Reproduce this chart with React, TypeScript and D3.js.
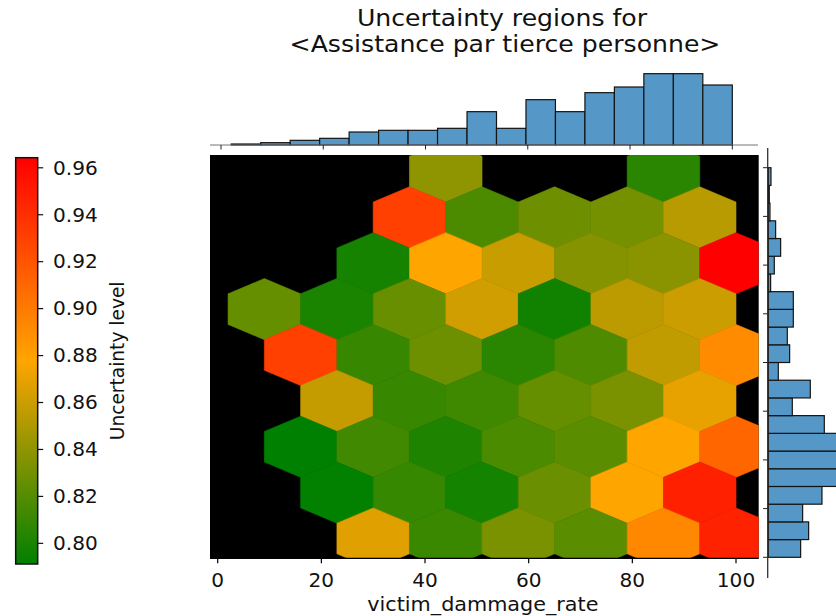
import React from "react";
import * as d3 from "d3";

const W = 836;
const H = 616;
const FONT = "DejaVu Sans";
// glyphs in this figure are slightly wider than tall
const TEXT_STRETCH = 1.08;

// Hexbin grid: 7 columns across the x range, 4 rows across the y range
const X_MIN = 2;
const X_MAX = 100;
const Y_MIN = 0;
const Y_MAX = 80;
const GRID_NX = 7;
const GRID_NY = 4;

// Occupied hexagon centres and their mean uncertainty
const cellX = [
  44, 86,
  37, 51, 65, 79, 93,
  30, 44, 58, 72, 86, 100,
  9, 23, 37, 51, 65, 79, 93,
  16, 30, 44, 58, 72, 86, 100,
  23, 37, 51, 65, 79, 93,
  16, 30, 44, 58, 72, 86, 100,
  23, 37, 51, 65, 79, 93,
  30, 44, 58, 72, 86, 100,
];
const cellY = [
  80, 80,
  70, 70, 70, 70, 70,
  60, 60, 60, 60, 60, 60,
  50, 50, 50, 50, 50, 50, 50,
  40, 40, 40, 40, 40, 40, 40,
  30, 30, 30, 30, 30, 30,
  20, 20, 20, 20, 20, 20, 20,
  10, 10, 10, 10, 10, 10,
  0, 0, 0, 0, 0, 0,
];
const uncertainty = [
  0.8394, 0.8055,
  0.9308, 0.817, 0.8286, 0.8313, 0.8537,
  0.7987, 0.8778, 0.859, 0.8367, 0.838, 0.9643,
  0.8258, 0.8, 0.826, 0.8618, 0.7966, 0.8547, 0.8601,
  0.9308, 0.8099, 0.8279, 0.8055, 0.8177, 0.8563, 0.8909,
  0.8577, 0.8099, 0.8126, 0.8258, 0.8326, 0.8699,
  0.7912, 0.8133, 0.8014, 0.8163, 0.8218, 0.8778, 0.9108,
  0.792, 0.8096, 0.7977, 0.8272, 0.8778, 0.9475,
  0.8672, 0.8109, 0.8326, 0.8218, 0.893, 0.9465,
];

// Marginal histograms (top: along x, left to right; right: along y, bottom to top)
const topCounts = [3, 7, 14, 20, 39, 44, 44, 50, 100, 50, 136, 100, 157, 174, 214, 214, 180];
const rightCounts = [97, 121, 103, 161, 218, 232, 225, 168, 72, 126, 30, 64, 57, 75, 75, 7, 18, 37, 22, 5, 3, 8];

// Ticks
const xTicks = [0, 20, 40, 60, 80, 100];
const yTicks = [0, 10, 20, 30, 40, 50, 60, 70, 80];
const cbarTicks = [0.8, 0.82, 0.84, 0.86, 0.88, 0.9, 0.92, 0.94, 0.96];

const V_MIN = 0.7912;
const V_MAX = 0.9643;

const TITLE_LINES = ["Uncertainty regions for", "<Assistance par tierce personne>"];
const X_LABEL = "victim_dammage_rate";
const CBAR_LABEL = "Uncertainty level";

function Label(props: {
  x: number;
  y: number;
  size: number;
  anchor?: "start" | "middle" | "end";
  children: React.ReactNode;
}) {
  return (
    <text
      transform={`translate(${props.x},${props.y}) scale(${TEXT_STRETCH},1)`}
      textAnchor={props.anchor ?? "middle"}
      fontSize={props.size}
      fill="#111"
    >
      {props.children}
    </text>
  );
}

export default function App() {
  // main panel
  const plot = { left: 210, right: 758.7, top: 155, bottom: 558.3 };
  const x = d3.scaleLinear().domain([0, 100]).range([217.7, 736]);
  const y = d3.scaleLinear().domain([Y_MIN, Y_MAX]).range([538.5, 171.5]);

  const color = d3
    .scaleLinear<string>()
    .domain([V_MIN, (V_MIN + V_MAX) / 2, V_MAX])
    .range(["#008000", "#ffa500", "#ff0000"])
    .interpolate(d3.interpolateRgb)
    .clamp(true);

  const sx = (X_MAX - X_MIN) / GRID_NX;
  const sy = (Y_MAX - Y_MIN) / GRID_NY;
  const hexOffsets: [number, number][] = [
    [0.5, -0.5 / 3],
    [0.5, 0.5 / 3],
    [0, 1 / 3],
    [-0.5, 0.5 / 3],
    [-0.5, -0.5 / 3],
    [0, -1 / 3],
  ];
  const hexPath = (cx: number, cy: number) =>
    "M" +
    hexOffsets
      .map(([dx, dy]) => `${x(cx + dx * sx).toFixed(2)},${y(cy + dy * sy).toFixed(2)}`)
      .join("L") +
    "Z";

  // top marginal
  const topX = d3.scaleLinear().domain([0, 100]).range([221, 732.3]);
  const topY = d3.scaleLinear().domain([0, 225]).range([145, 70]);
  const topBinW = (X_MAX - X_MIN) / topCounts.length;

  // right marginal
  const rightY = d3.scaleLinear().domain([Y_MIN, Y_MAX]).range([557.3, 167.7]);
  const rightX = d3.scaleLinear().domain([0, 225]).range([768.3, 843.3]);
  const rightBinH = (Y_MAX - Y_MIN) / rightCounts.length;

  // colour bar
  const cbar = { left: 15.7, right: 37.7 };
  const cbarY = d3.scaleLinear().domain([V_MIN, V_MAX]).range([564, 157.7]);

  const barFill = "#5597c6";
  const barStroke = "#141414";

  return (
    <svg width={W} height={H} style={{ display: "block", position: "absolute", left: 0, top: 0 }} fontFamily={FONT}>
      <defs>
        <clipPath id="plotClip">
          <rect x={plot.left} y={plot.top} width={plot.right - plot.left} height={plot.bottom - plot.top} />
        </clipPath>
        <clipPath id="figClip">
          <rect x={0} y={0} width={W} height={H} />
        </clipPath>
        <linearGradient id="cbarGrad" x1="0" y1="1" x2="0" y2="0">
          <stop offset="0" stopColor="#008000" />
          <stop offset="0.5" stopColor="#ffa500" />
          <stop offset="1" stopColor="#ff0000" />
        </linearGradient>
      </defs>
      <rect x={0} y={0} width={W} height={H} fill="#ffffff" />

      {/* title */}
      <Label x={502} y={25.5} size={23.3}>
        {TITLE_LINES[0]}
      </Label>
      <Label x={505} y={51.5} size={23.3}>
        {TITLE_LINES[1]}
      </Label>

      {/* hexbin panel */}
      <rect x={plot.left} y={plot.top} width={plot.right - plot.left} height={plot.bottom - plot.top} fill="#000" />
      <g clipPath="url(#plotClip)">
        {uncertainty.map((v, i) => (
          <path key={i} d={hexPath(cellX[i], cellY[i])} fill={color(v)} stroke={color(v)} strokeWidth={0.6} />
        ))}
      </g>
      <line x1={plot.left} x2={plot.right} y1={plot.bottom} y2={plot.bottom} stroke="#000" strokeWidth={1.3} />
      {xTicks.map((t) => (
        <g key={t}>
          <line x1={x(t)} x2={x(t)} y1={plot.bottom} y2={plot.bottom + 5} stroke="#000" strokeWidth={1.2} />
          <Label x={x(t)} y={586.7} size={18.6}>
            {t}
          </Label>
        </g>
      ))}
      <Label x={(plot.left + plot.right) / 2 - 1.5} y={610.5} size={19.2}>
        {X_LABEL}
      </Label>

      {/* top marginal histogram */}
      {topCounts.map((c, i) => {
        const x0 = topX(X_MIN + i * topBinW);
        const x1 = topX(X_MIN + (i + 1) * topBinW);
        return (
          <rect key={i} x={x0} y={topY(c)} width={x1 - x0} height={topY(0) - topY(c)} fill={barFill} stroke={barStroke} strokeWidth={1.2} />
        );
      })}
      <line x1={210} x2={758} y1={topY(0)} y2={topY(0)} stroke="#777" strokeWidth={1.1} />
      {xTicks.map((t) => (
        <line key={t} x1={topX(t)} x2={topX(t)} y1={topY(0)} y2={topY(0) + 4.5} stroke="#222" strokeWidth={1} />
      ))}

      {/* right marginal histogram */}
      <g clipPath="url(#figClip)">
        {rightCounts.map((c, i) => {
          const y0 = rightY(Y_MIN + (i + 1) * rightBinH);
          const y1 = rightY(Y_MIN + i * rightBinH);
          return (
            <rect key={i} x={rightX(0)} y={y0} width={rightX(c) - rightX(0)} height={y1 - y0} fill={barFill} stroke={barStroke} strokeWidth={1.2} />
          );
        })}
      </g>
      <line x1={767.7} x2={767.7} y1={148} y2={578} stroke="#333" strokeWidth={1.3} />
      {yTicks.map((t) => (
        <line key={t} x1={763} x2={767.7} y1={rightY(t)} y2={rightY(t)} stroke="#222" strokeWidth={1} />
      ))}

      {/* colour bar */}
      <rect x={cbar.left} y={cbarY(V_MAX)} width={cbar.right - cbar.left} height={cbarY(V_MIN) - cbarY(V_MAX)} fill="url(#cbarGrad)" stroke="#111" strokeWidth={1.5} />
      {cbarTicks.map((t) => (
        <g key={t}>
          <line x1={cbar.right} x2={cbar.right + 5.5} y1={cbarY(t)} y2={cbarY(t)} stroke="#111" strokeWidth={1.2} />
          <Label x={53} y={cbarY(t) + 6.8} size={18.6} anchor="start">
            {t.toFixed(2)}
          </Label>
        </g>
      ))}
      <text transform={`translate(123.5, ${(cbarY(V_MIN) + cbarY(V_MAX)) / 2}) rotate(-90)`} textAnchor="middle" fontSize={18.6} fill="#111">
        {CBAR_LABEL}
      </text>
    </svg>
  );
}
